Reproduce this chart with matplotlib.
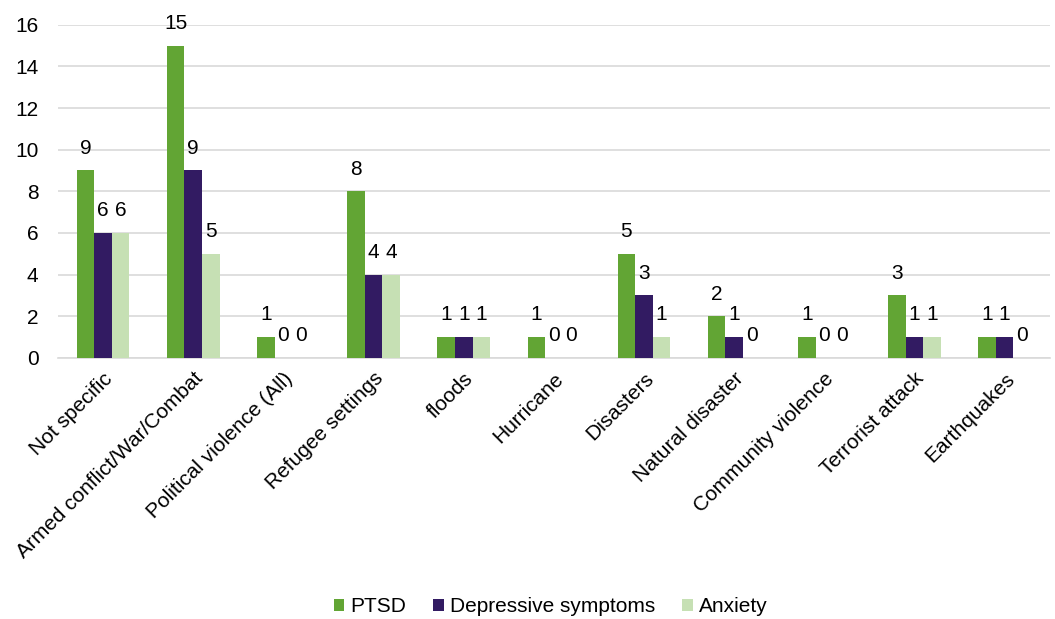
import numpy as np
import matplotlib
matplotlib.use('Agg')
import matplotlib.pyplot as plt

plt.rcParams['font.family'] = ['Liberation Sans', 'DejaVu Sans']

categories = ['Not specific', 'Armed conflict/War/Combat', 'Political violence (All)',
              'Refugee settings', 'floods', 'Hurricane', 'Disasters', 'Natural disaster',
              'Community violence', 'Terrorist attack', 'Earthquakes']
ptsd = [9, 15, 1, 8, 1, 1, 5, 2, 1, 3, 1]
depressive = [6, 9, 0, 4, 1, 0, 3, 1, 0, 1, 1]
anxiety = [6, 5, 0, 4, 1, 0, 1, 0, 0, 1, 0]

series = [('PTSD', ptsd, '#62A534'),
          ('Depressive symptoms', depressive, '#321B62'),
          ('Anxiety', anxiety, '#C6E0B4')]

FS = 15

fig = plt.figure(figsize=(10.55, 6.19), dpi=100)
ax = fig.add_axes([0.055, 0.422, 0.94, 0.538])

x = np.arange(len(categories))
w = 0.195
for i, (name, vals, color) in enumerate(series):
    pos = x + (i - 1) * w
    bars = ax.bar(pos, vals, w, color=color, label=name, zorder=3)
    for b, v in zip(bars, vals):
        ax.annotate(f'{v}', (b.get_x() + b.get_width() / 2, v), xytext=(0, 9),
                    textcoords='offset points', ha='center', va='bottom', fontsize=FS)

ax.set_xlim(-0.5, len(categories) - 0.5)
ax.set_ylim(0, 16)
ax.set_yticks(range(0, 17, 2))
ax.grid(True, axis='y', color='#D9D9D9', linewidth=1.2, zorder=0)
for s in ['top', 'right', 'left']:
    ax.spines[s].set_visible(False)
ax.spines['bottom'].set_color('#D9D9D9')
ax.spines['bottom'].set_linewidth(1.2)
ax.tick_params(axis='both', length=0, labelsize=FS, colors='black')
ax.tick_params(axis='y', pad=14)
ax.tick_params(axis='x', pad=8)
ax.set_xticks(x)
ax.set_xticklabels(categories, rotation=45, ha='right', rotation_mode='anchor')

fig.legend(loc='lower center', bbox_to_anchor=(0.522, -0.026), ncol=3, frameon=False,
           fontsize=FS, handlelength=0.5, handleheight=0.5, handletextpad=0.3,
           columnspacing=1.3)

fig.savefig('out.png', dpi=100)
